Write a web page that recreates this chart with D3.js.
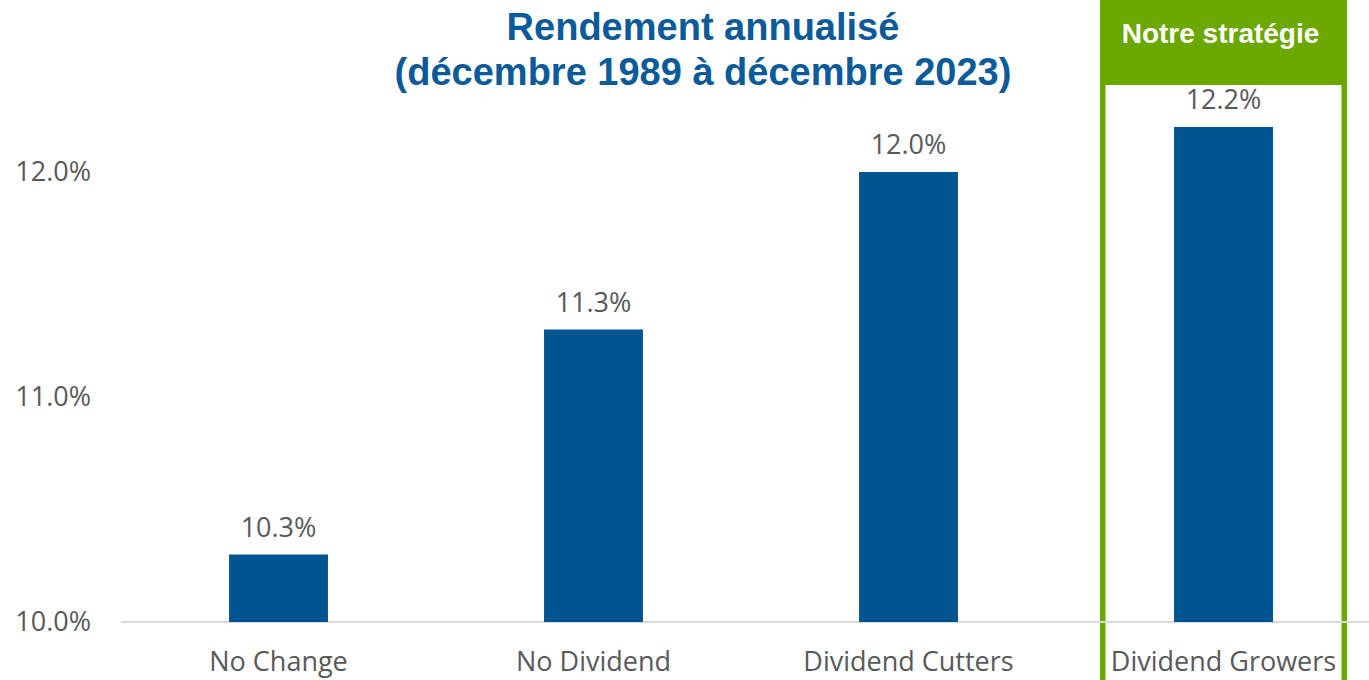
<!DOCTYPE html>
<html>
<head>
<meta charset="utf-8">
<script src="https://cdn.jsdelivr.net/npm/d3@7"></script>
<style>
  html, body { margin: 0; padding: 0; background: #fff; overflow: hidden; }
</style>
</head>
<body>
<div id="d3-container"></div>
<script>
const categories = ["No Change", "No Dividend", "Dividend Cutters", "Dividend Growers"];
const values = [10.3, 11.3, 12.0, 12.2];
const yTicks = [10.0, 11.0, 12.0];
const titleLines = ["Rendement annualisé", "(décembre 1989 à décembre 2023)"];
const highlight = "Dividend Growers";
const highlightLabel = "Notre stratégie";

loadVisualizations = () => {
  const width = 1369;
  const height = 680;
  const margin = { top: 0, bottom: 58, left: 121, right: -12 };

  const blue = "#00548f";
  const green = "#6aa800";
  const gray = "#595959";

  const svg = d3.select("#d3-container")
    .append("svg")
    .attr("width", width)
    .attr("height", height)
    .style("display", "block");

  const x = d3.scaleBand()
    .domain(categories)
    .range([margin.left, width - margin.right])
    .paddingInner(0.686)
    .paddingOuter(0.343);

  const y = d3.scaleLinear()
    .domain([10, 12])
    .range([height - margin.bottom, 172]);

  // highlight frame behind everything
  const hx = x(highlight) + x.bandwidth() / 2;
  const frameW = 247;
  const frame = svg.append("g");
  frame.append("rect")
    .attr("x", hx - frameW / 2)
    .attr("y", 0)
    .attr("width", frameW)
    .attr("height", 85)
    .attr("fill", green);
  frame.append("rect")
    .attr("x", hx - frameW / 2 + 2.75)
    .attr("y", 82)
    .attr("width", frameW - 5.5)
    .attr("height", height + 20)
    .attr("fill", "none")
    .attr("stroke", green)
    .attr("stroke-width", 5.5);
  frame.append("text")
    .attr("x", hx - 3)
    .attr("y", 43)
    .attr("text-anchor", "middle")
    .attr("fill", "#fff")
    .attr("font-family", "Liberation Sans, Arial, sans-serif")
    .attr("font-weight", "bold")
    .attr("font-size", "28px")
    .text(highlightLabel);

  // baseline
  svg.append("line")
    .attr("x1", margin.left)
    .attr("x2", width)
    .attr("y1", y(10))
    .attr("y2", y(10))
    .attr("stroke", "#d9d9d9")
    .attr("stroke-width", 2);

  svg.append("g")
    .selectAll("rect")
    .data(values)
    .join("rect")
      .attr("x", (d, i) => x(categories[i]))
      .attr("y", d => y(d))
      .attr("width", x.bandwidth())
      .attr("height", d => y(10) - y(d))
      .attr("fill", blue);

  svg.append("g")
    .selectAll("text")
    .data(values)
    .join("text")
      .attr("x", (d, i) => x(categories[i]) + x.bandwidth() / 2)
      .attr("y", d => y(d) - 18)
      .attr("text-anchor", "middle")
      .attr("fill", gray)
      .attr("font-family", "Open Sans, sans-serif")
      .attr("font-size", "27px")
      .text(d => d.toFixed(1) + "%");

  function yAxis(g) {
    g.attr("transform", `translate(${margin.left}, 0)`)
      .call(d3.axisLeft(y).tickValues(yTicks).tickSize(0).tickPadding(30).tickFormat(d => d.toFixed(1) + "%"))
      .call(g => g.select(".domain").remove())
      .attr("font-family", "Open Sans, sans-serif")
      .attr("font-size", "27px")
      .selectAll("text").attr("fill", gray);
  }

  function xAxis(g) {
    g.attr("transform", `translate(0,${y(10)})`)
      .call(d3.axisBottom(x).tickSize(0).tickPadding(30))
      .call(g => g.select(".domain").remove())
      .attr("font-family", "Open Sans, sans-serif")
      .attr("font-size", "27px")
      .selectAll("text").attr("fill", gray);
  }

  svg.append("g").call(xAxis);
  svg.append("g").call(yAxis);

  svg.append("g")
    .selectAll("text")
    .data(titleLines)
    .join("text")
      .attr("x", 703)
      .attr("y", (d, i) => 40 + i * 45)
      .attr("text-anchor", "middle")
      .attr("fill", "#0b5a9a")
      .attr("font-family", "Liberation Sans, Arial, sans-serif")
      .attr("font-weight", "bold")
      .attr("font-size", "38px")
      .text(d => d);
};

window.onload = () => {
  loadVisualizations();
};
</script>
</body>
</html>
